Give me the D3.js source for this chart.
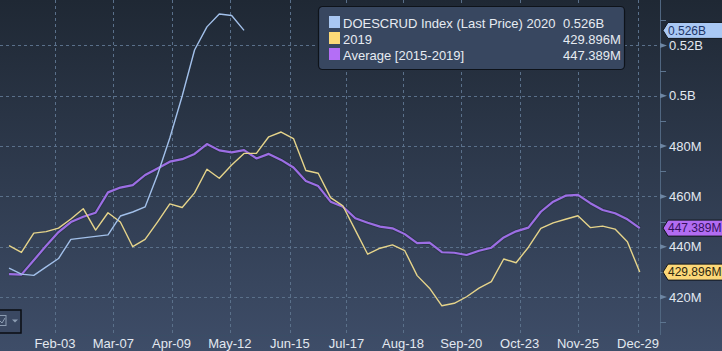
<!DOCTYPE html>
<html><head><meta charset="utf-8">
<script src="https://cdn.jsdelivr.net/npm/d3@7"></script>
<style>
html,body{margin:0;padding:0;background:#2a3546;}
svg{display:block;font-family:"Liberation Sans",Arial,sans-serif;}
</style></head>
<body><svg id="c" width="722" height="351"></svg>
<script>
const dates = ["2020-01-08","2020-01-15","2020-01-22","2020-01-29","2020-02-05","2020-02-12","2020-02-19","2020-02-26",
"2020-03-04","2020-03-11","2020-03-18","2020-03-25","2020-04-01","2020-04-08","2020-04-15","2020-04-22","2020-04-29",
"2020-05-06","2020-05-13","2020-05-20","2020-05-27","2020-06-03","2020-06-10","2020-06-17","2020-06-24","2020-07-01",
"2020-07-08","2020-07-15","2020-07-22","2020-07-29","2020-08-05","2020-08-12","2020-08-19","2020-08-26","2020-09-02",
"2020-09-09","2020-09-16","2020-09-23","2020-09-30","2020-10-07","2020-10-14","2020-10-21","2020-10-28","2020-11-04",
"2020-11-11","2020-11-18","2020-11-25","2020-12-02","2020-12-09","2020-12-16","2020-12-23","2020-12-30"];
const s2020 = [431.5,429.1,428.6,432.0,435.3,442.9,443.5,444.1,444.7,452.2,453.8,455.8,468.5,483.2,499.9,518.2,527.4,532.5,531.9,526.0];
const s2019 = [440.4,437.7,445.4,446.0,447.4,451.0,455.1,446.6,453.5,449.8,440.0,442.9,449.8,457.0,455.6,461.4,470.8,467.2,472.5,477.1,
477.1,483.7,485.6,483.0,470.3,469.2,459.5,456.2,446.6,437.0,439.4,440.7,438.4,428.5,423.5,416.5,417.5,420.1,423.5,426.1,
435.1,433.6,439.8,447.3,449.5,450.9,452.3,447.6,448.2,447.0,442.0,429.896];
const sAvg = [429.1,428.9,434.6,440.4,445.8,449.8,451.9,453.5,461.6,463.5,464.5,468.5,471.1,473.8,474.8,476.9,480.8,478.3,477.5,478.4,
475.1,476.9,474.5,471.5,466.1,464.1,457.9,455.9,451.3,449.5,448.0,447.3,445.0,441.4,441.6,437.8,437.6,436.7,438.4,439.6,
443.7,446.1,447.6,453.9,457.9,460.3,460.6,457.3,454.6,453.3,450.9,447.389];
const xTicks = ["2020-02-03","2020-03-07","2020-04-09","2020-05-12","2020-06-15","2020-07-17","2020-08-18","2020-09-20","2020-10-23","2020-11-25","2020-12-29"];
const yMajor = [420,440,460,480,500,520];
const yMajorLabels = ["420M","440M","460M","480M","0.5B","0.52B"];
const yMinor = [410,430,450,470,490,510,530];
const legendNames = ["DOESCRUD Index (Last Price) 2020","2019","Average [2015-2019]"];
const legendValues = ["0.526B","429.896M","447.389M"];
const lastTags = ["0.526B","447.389M","429.896M"];

const parse = d3.timeParse("%Y-%m-%d");
const svg = d3.select("#c");
const W = 722, H = 351, plotR = 660, plotB = 335;

const defs = svg.append("defs");
const g1 = defs.append("linearGradient").attr("id","bg").attr("x1",0).attr("x2",0).attr("y1",0).attr("y2",1);
g1.append("stop").attr("offset","0%").attr("stop-color","#1f2834");
g1.append("stop").attr("offset","100%").attr("stop-color","#3e4d68");
defs.append("clipPath").attr("id","clip").append("rect").attr("width",W).attr("height",H);
svg.append("rect").attr("width",W).attr("height",H).attr("fill","url(#bg)");

const x = d3.scaleTime().domain([new Date(2020,0,2,21), new Date(2021,0,10,11)]).range([0,plotR]);
const y = d3.scaleLinear().domain([404.89,538.09]).range([plotB,0]);

// grid
const grid = svg.append("g").attr("stroke","#5a708a").attr("stroke-dasharray","3,3").attr("stroke-width",1);
yMajor.forEach(v=>grid.append("line").attr("x1",0).attr("x2",plotR).attr("y1",Math.round(y(v))+0.5).attr("y2",Math.round(y(v))+0.5));
xTicks.forEach(t=>{const xx=Math.round(x(parse(t)))+0.5; grid.append("line").attr("x1",xx).attr("x2",xx).attr("y1",0).attr("y2",plotB);});

// axis line
svg.append("line").attr("x1",plotR+0.5).attr("x2",plotR+0.5).attr("y1",0).attr("y2",plotB).attr("stroke","#506680");
svg.append("line").attr("x1",0).attr("x2",plotR).attr("y1",plotB+0.5).attr("y2",plotB+0.5).attr("stroke","#3a4d66");

// y ticks
yMinor.forEach(v=>svg.append("line").attr("x1",plotR).attr("x2",plotR+6).attr("y1",Math.round(y(v))+0.5).attr("y2",Math.round(y(v))+0.5).attr("stroke","#5d7590"));
yMajor.forEach((v,i)=>{
  const yy=y(v);
  svg.append("path").attr("d",`M${plotR},${yy-2.5}L${plotR+7},${yy}L${plotR},${yy+2.5}Z`).attr("fill","#6d86a3");
  svg.append("text").attr("x",669).attr("y",yy).attr("dy","0.36em").attr("fill","#e2e8f0").attr("font-size",13).text(yMajorLabels[i]);
});
// x labels
const fmt = d3.timeFormat("%b-%d");
xTicks.forEach(t=>svg.append("text").attr("x",x(parse(t))).attr("y",348).attr("text-anchor","middle").attr("fill","#e2e8f0").attr("font-size",13).text(fmt(parse(t))));

// lines
const line = d3.line().x((d,i)=>x(parse(dates[i]))).y(d=>y(d));
const plot = svg.append("g").attr("clip-path","url(#clip)");
plot.append("path").datum(sAvg).attr("d",line).attr("fill","none").attr("stroke","#1a2230").attr("stroke-opacity",0.35).attr("stroke-width",4);
plot.append("path").datum(sAvg).attr("d",line).attr("fill","none").attr("stroke","#9c6ee4").attr("stroke-width",2.2).attr("stroke-linejoin","round");
plot.append("path").datum(s2019).attr("d",line).attr("fill","none").attr("stroke","#e6d48a").attr("stroke-width",1.4).attr("stroke-linejoin","round");
plot.append("path").datum(s2020).attr("d",line).attr("fill","none").attr("stroke","#a2c0ea").attr("stroke-width",1.4).attr("stroke-linejoin","round");

// legend
const lg = svg.append("g");
lg.append("rect").attr("x",318.5).attr("y",6.5).attr("width",306).attr("height",63).attr("rx",4).attr("fill","#384760").attr("stroke","#0e131a").attr("stroke-width",1.2);
const swc = ["#a9c7f2","#fcd977","#b46ef6"];
legendNames.forEach((n,i)=>{
  const yy = 16 + i*16;
  lg.append("rect").attr("x",329).attr("y",yy).attr("width",11).attr("height",12).attr("fill",swc[i]);
  lg.append("text").attr("x",343).attr("y",yy+11.5).attr("fill","#e6ebf2").attr("font-size",13).text(n);
  lg.append("text").attr("x",563).attr("y",yy+11.5).attr("fill","#e6ebf2").attr("font-size",13).text(legendValues[i]);
});

// last value tags
const tagVals = [s2020[s2020.length-1], sAvg[sAvg.length-1], s2019[s2019.length-1]];
const tagFill = ["#a9c8f4","#b26cf2","#fcd878"];
const tagText = ["#1d3568","#35105e","#2e2810"];
tagVals.forEach((v,i)=>{
  const cy = y(v);
  svg.append("path").attr("d",`M663,${cy}L668,${cy-8}L724,${cy-8}L724,${cy+8}L668,${cy+8}Z`).attr("fill",tagFill[i]).attr("stroke","#10151c").attr("stroke-width",1);
  svg.append("text").attr("x",668).attr("y",cy).attr("dy","0.36em").attr("fill",tagText[i]).attr("font-size",12).text(lastTags[i]);
});

// small UI widget bottom-left
const ui = svg.append("g");
ui.append("rect").attr("x",-1).attr("y",310).attr("width",22).attr("height",23).attr("fill","#3a4862").attr("stroke","#0a0d12").attr("stroke-width",1.5);
ui.append("rect").attr("x",-3).attr("y",315.5).attr("width",9).attr("height",10).attr("fill","none").attr("stroke","#8c9cb2");
ui.append("path").attr("d","M0,321L2,323L5,318").attr("fill","none").attr("stroke","#8c9cb2");
ui.append("path").attr("d","M12,319.5L18,319.5L15,322.5Z").attr("fill","#8c9cb2");
</script></body></html>
